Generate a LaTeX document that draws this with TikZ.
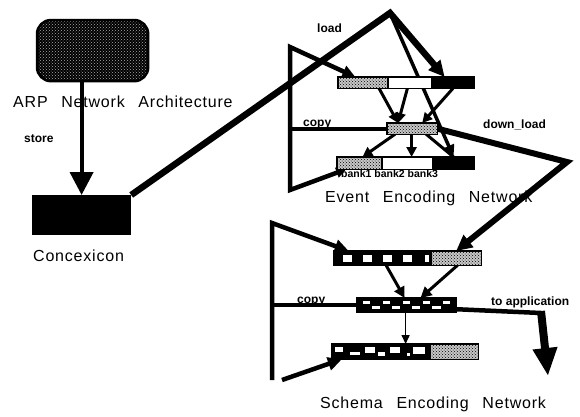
\documentclass[tikz,border=0pt]{standalone}
\usepackage{fontspec}
\setmainfont{Liberation Sans}
\newfontfamily\biglbl[LetterSpace=5,WordSpace=2.6]{Liberation Sans}
\usetikzlibrary{arrows.meta,patterns,calc}
\tikzset{
  box/.style={draw=black, line width=1.2pt, inner sep=0pt, anchor=north west},
  hatchbox/.style={box, preaction={fill=black!22}, pattern=crosshatch dots, pattern color=black},
  blankbox/.style={box, fill=white},
  solidbox/.style={box, fill=black},
  wl/.style={line width=#1, line join=miter},
  lbl/.style={font=\bfseries\fontsize{12}{12}\selectfont, inner sep=0pt, anchor=base west},
  smalllbl/.style={font=\bfseries\fontsize{10.5}{10.5}\selectfont, inner sep=0pt, anchor=base west},
  biglabel/.style={font=\biglbl\fontsize{16}{16}\selectfont, inner sep=0pt, anchor=base west},
  tipS/.style={-{Triangle[length=10pt,width=10pt]}},
  tipM/.style={-{Triangle[length=14pt,width=13pt]}},
}
\begin{document}
\begin{tikzpicture}[x=1pt,y=-1pt]
\useasboundingbox (0,0) rectangle (580,416);

% ---------- labels ----------
\node[biglabel] (tarp) at (13,107) {ARP Network Architecture};
\node[lbl] (tstore) at (24,142) {store};
\node[biglabel] (tconcx) at (33,261) {Concexicon};
\node[lbl] (tload) at (317,32) {load};
\node[lbl] (tcopy1) at (303,126) {copy};
\node[lbl] (tdown) at (483,128) {down\_load};
\node[smalllbl] (tbanks) at (341,177) {bank1 bank2 bank3};
\node[biglabel] (tevent) at (325,202) {Event Encoding Network};
\node[lbl] (tcopy2) at (297,303) {copy};
\node[lbl] (tapp) at (491,305) {to application};
\node[biglabel] (tschema) at (320,408) {Schema Encoding Network};

% ---------- node geometry (placed first, drawn on top later) ----------
\path
  (37,20)  node[box, draw=none, minimum width=110pt, minimum height=60pt] (cloud) {}
  (32,195) node[box, draw=none, minimum width=98pt, minimum height=39pt] (concx) {}
  (338,77) node[box, draw=none, minimum width=50pt, minimum height=10pt] (et1) {}
  (388,77) node[box, draw=none, minimum width=44pt, minimum height=10pt] (et2) {}
  (432,77) node[box, draw=none, minimum width=41pt, minimum height=10pt] (et3) {}
  (387,123) node[box, draw=none, minimum width=49pt, minimum height=10pt] (em) {}
  (337,157) node[box, draw=none, minimum width=45pt, minimum height=11pt] (eb1) {}
  (382,157) node[box, draw=none, minimum width=51pt, minimum height=11pt] (eb2) {}
  (433,157) node[box, draw=none, minimum width=40pt, minimum height=11pt] (eb3) {}
  (334,251) node[box, draw=none, minimum width=97pt, minimum height=13pt] (st1) {}
  (431,251) node[box, draw=none, minimum width=49pt, minimum height=13pt] (st2) {}
  (357,298) node[box, draw=none, minimum width=98pt, minimum height=13pt] (sm) {}
  (332,344) node[box, draw=none, minimum width=98pt, minimum height=14pt] (sb1) {}
  (430,344) node[box, draw=none, minimum width=47pt, minimum height=14pt] (sb2) {};

\coordinate (apex) at (390,13);
\coordinate (apex2) at (567,162);
\coordinate (elt) at (290,47);
\coordinate (elb) at (290,190);
\coordinate (slt) at (272,223);
\coordinate (slb) at (272,380);
\coordinate (sbs) at (282,380);
\coordinate (appc) at (541,313);
\coordinate (apptip) at (548,376);
\coordinate (emb) at ($(em.south west)!0.49!(em.south east)$);
\coordinate (smb) at ($(sm.south west)!0.49!(sm.south east)$);

% ---------- connectors ----------
% store
\draw[wl=4pt, -{Triangle[length=23pt,width=23pt]}] (concx.north |- cloud.south) -- (concx.north);
% Concexicon to load apex to bank3 (top)
\draw[wl=6.5pt, -{Triangle[length=16pt,width=15pt]}] (concx.north east) -- (apex) -- ($(et3.north west)!0.3!(et3.north east)$);
\draw[wl=3.5pt, -{Triangle[length=12pt,width=11pt]}] (apex) -- (eb3.north);
% event bracket
\draw[wl=4.5pt, {Triangle[length=13pt,width=12pt]}-{Triangle[length=10pt,width=10pt]}]
  ($(et1.north west)!0.34!(et1.north east)$) -- (elt) -- (elb) -- ($(eb1.south west)!0.2!(eb1.south east)$);
\draw[wl=4pt] (elt |- em.west) -- (em.west);
% top bank to middle bank
\draw[wl=3pt, tipS] ($(et1.south west)!0.8!(et1.south east)$) -- ($(em.north west)!0.22!(em.north east)$);
\draw[wl=3pt, tipS] ($(et2.south west)!0.43!(et2.south east)$) -- ($(em.north west)!0.22!(em.north east)$);
\draw[wl=3pt, tipS] (et3.south) -- ($(em.north west)!0.7!(em.north east)$);
% middle bank to bottom bank
\draw[wl=3pt, tipS] ($(em.south west)!0.16!(em.south east)$) -- ($(eb1.north west)!0.55!(eb1.north east)$);
\draw[wl=2.5pt, tipS] (emb) -- (emb |- eb2.north);
\draw[wl=3pt] ($(em.south west)!0.78!(em.south east)$) -- (eb3.north);
% down_load
\draw[wl=6pt, -{Triangle[length=16pt,width=15pt]}] (em.east) -- (apex2) -- (st2.north);
% schema bracket
\draw[wl=4.5pt, {Triangle[length=14pt,width=13pt]}-] ($(st1.north west)!0.15!(st1.north east)$) -- (slt) -- (slb);
\draw[wl=4pt] (slt |- sm.west) -- (sm.west);
\draw[wl=4.5pt, tipM] (sbs) -- ($(sb1.south west)!0.1!(sb1.south east)$);
% schema top to middle to bottom
\draw[wl=3pt, -{Triangle[length=11pt,width=11pt]}] ($(st1.south west)!0.53!(st1.south east)$) -- ($(sm.north west)!0.48!(sm.north east)$);
\draw[wl=3pt, -{Triangle[length=11pt,width=11pt]}] ($(st2.south west)!0.53!(st2.south east)$) -- ($(sm.north west)!0.64!(sm.north east)$);
\draw[wl=1.5pt, -{Triangle[length=9pt,width=8pt]}] (smb) -- (smb |- sb1.north);
% to application
\draw[wl=4.5pt] ($(sm.south east)+(0,-3)$) -- (appc);
\draw[wl=8pt, -{Triangle[length=28pt,width=23pt]}] ($(appc)+(0,-2)$) -- (apptip);

% ---------- shapes drawn over connectors ----------
\path[draw=black, line width=2.5pt, rounded corners=14pt, preaction={fill=black},
      pattern=crosshatch dots, pattern color=black!32]
  (cloud.north west) rectangle (cloud.south east);
\fill[black] (concx.north west) rectangle (concx.south east);

\foreach \n/\s in {et1/hatchbox, et2/blankbox, et3/solidbox, em/hatchbox,
                   eb1/hatchbox, eb2/blankbox, eb3/solidbox,
                   st1/solidbox, st2/hatchbox, sm/solidbox, sb1/solidbox, sb2/hatchbox}
  \path[\s, draw=black, line width=1.2pt] (\n.north west) rectangle (\n.south east);

% white cells of schema banks
\foreach \a/\b in {343/352, 363/372, 383/392, 403/412, 425/429}
  \fill[white] (\a,254.5) rectangle (\b,261.5);
\foreach \a/\b in {363/370, 383/390, 403/410, 423/430, 443/450}
  \fill[white] (\a,300.5) rectangle (\b,303.5);
\foreach \a/\b in {372/380, 392/400, 412/420, 432/441}
  \fill[white] (\a,305.5) rectangle (\b,309);
\foreach \a/\b/\c/\d in {335/343/347/352, 350/360/352/355, 365/375/347/353, 378/385/352/356,
                         390/400/347/353, 407/410/353/356, 413/425/347/354}
  \fill[white] (\a,\c) rectangle (\b,\d);
\end{tikzpicture}
\end{document}
